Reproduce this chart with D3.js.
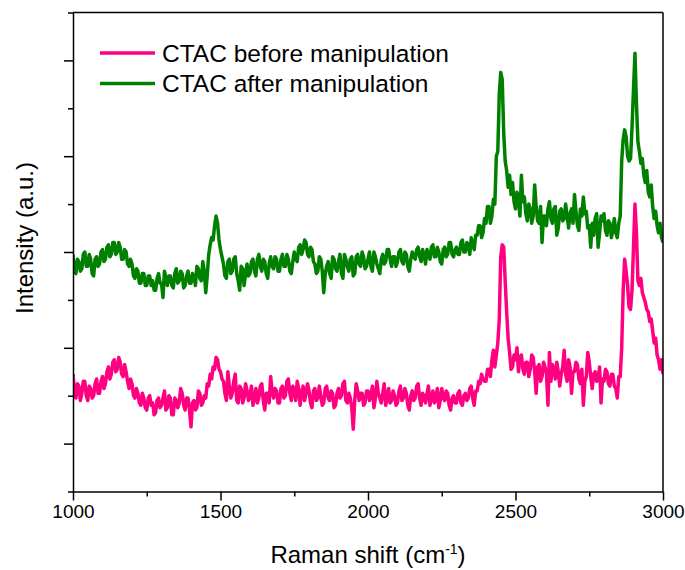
<!DOCTYPE html>
<html>
<head>
<meta charset="utf-8">
<script src="https://cdn.jsdelivr.net/npm/d3@7"></script>
<style>
	body { margin: 0; background: #fff; }
	svg { display: block; font-family: Arial, "Liberation Sans", sans-serif; }
</style>
</head>
<body>
<div id="chart"></div>
<script>
// Raman shift axis, 5 cm-1 steps from 1000 to 3000
var shifts = d3.range(1000, 3001, 5);

// CTAC before manipulation (a.u.), one row per 100 cm-1
var beforeValues = [
	2.45, 2.10, 1.95, 2.25, 2.20, 1.90, 2.05, 2.30, 2.30, 2.00, 1.90, 2.20, 2.15, 1.95, 2.00, 2.25, 2.35, 2.05, 2.05, 2.30,
	2.40, 2.15, 2.25, 2.50, 2.60, 2.35, 2.45, 2.70, 2.75, 2.50, 2.55, 2.80, 2.70, 2.45, 2.40, 2.65, 2.50, 2.30, 2.15, 2.35,
	2.25, 2.00, 1.95, 2.15, 2.05, 1.85, 1.80, 2.05, 1.95, 1.75, 1.70, 1.95, 2.00, 1.80, 1.85, 1.60, 1.65, 1.90, 1.95, 1.75,
	1.80, 1.95, 2.10, 1.70, 1.75, 2.00, 1.95, 1.60, 1.60, 1.95, 1.90, 1.75, 1.85, 2.15, 2.05, 1.80, 1.70, 1.95, 1.95, 1.70,
	1.35, 1.85, 1.90, 1.70, 1.75, 2.10, 2.05, 1.80, 1.85, 2.00, 1.95, 2.25, 2.20, 2.45, 2.35, 2.60, 2.55, 2.80, 2.75, 2.55,
	2.50, 2.35, 2.30, 2.05, 1.90, 2.50, 2.20, 1.95, 2.05, 2.30, 2.45, 1.90, 1.85, 2.20, 2.15, 1.85, 1.95, 2.25, 2.10, 1.90,
	2.00, 2.20, 1.80, 1.95, 2.15, 1.85, 1.95, 2.20, 2.25, 1.90, 1.70, 2.05, 2.05, 1.85, 2.40, 2.10, 1.95, 2.15, 2.10, 1.85,
	1.85, 2.15, 2.20, 1.95, 2.00, 2.30, 2.35, 2.05, 1.90, 2.20, 2.10, 1.90, 2.30, 2.15, 1.80, 2.05, 2.20, 1.90, 2.05, 2.25,
	2.10, 1.85, 1.75, 2.10, 2.15, 1.90, 1.95, 2.20, 2.00, 1.80, 1.85, 2.15, 2.20, 1.95, 1.90, 2.10, 2.05, 1.75, 1.80, 2.05,
	2.15, 1.95, 2.00, 2.25, 2.30, 1.90, 1.85, 2.05, 1.95, 1.75, 1.30, 1.90, 2.25, 2.10, 1.90, 2.05, 2.05, 1.80, 1.85, 2.10,
	2.10, 1.90, 2.00, 2.20, 1.75, 1.95, 2.30, 2.05, 1.95, 1.85, 2.05, 2.25, 1.80, 1.95, 2.15, 1.85, 1.90, 2.10, 2.00, 1.80,
	1.85, 2.10, 2.20, 1.90, 1.95, 2.15, 2.05, 1.80, 1.70, 2.00, 2.10, 1.90, 1.95, 2.20, 2.25, 1.95, 1.80, 2.05, 2.00, 1.85,
	2.05, 2.20, 1.80, 1.95, 2.10, 1.85, 1.95, 2.15, 1.75, 1.90, 2.15, 1.95, 1.90, 2.10, 2.05, 1.80, 1.70, 1.95, 2.00, 1.85,
	1.85, 2.05, 2.10, 1.85, 1.80, 2.00, 2.05, 1.90, 1.95, 2.15, 2.20, 1.95, 1.80, 2.10, 2.10, 2.30, 2.25, 2.45, 2.35, 2.30,
	2.30, 2.55, 2.55, 2.40, 2.75, 2.95, 2.60, 2.85, 3.10, 3.60, 4.90, 5.15, 5.10, 4.40, 3.75, 3.20, 2.90, 2.55, 2.60, 2.85,
	2.75, 3.00, 2.50, 2.80, 2.85, 2.55, 2.45, 2.70, 2.70, 2.40, 2.55, 2.85, 2.80, 2.50, 2.05, 2.60, 2.65, 2.30, 2.40, 2.70,
	2.60, 2.45, 1.80, 2.90, 2.30, 2.65, 2.55, 2.35, 2.70, 2.50, 2.20, 2.45, 2.60, 2.95, 2.45, 2.30, 2.75, 2.60, 2.05, 2.50,
	2.50, 2.70, 2.65, 2.35, 2.25, 2.55, 1.80, 2.30, 2.40, 2.90, 2.70, 2.40, 2.15, 2.45, 2.50, 2.30, 2.35, 2.60, 1.85, 2.35,
	2.30, 2.55, 2.50, 2.25, 2.20, 2.45, 2.45, 2.20, 2.15, 1.95, 2.40, 2.40, 3.00, 4.20, 4.85, 4.60, 4.30, 3.85, 3.80, 4.20,
	5.10, 6.00, 5.40, 4.40, 4.30, 4.45, 4.15, 4.05, 3.95, 3.80, 3.75, 3.55, 3.60, 3.35, 3.10, 3.20, 2.85, 2.75, 2.55, 2.75,
	2.45
];

// CTAC after manipulation (a.u.), one row per 100 cm-1
var afterValues = [
	4.95, 4.60, 4.55, 4.85, 4.80, 4.60, 4.65, 4.95, 5.00, 4.70, 4.70, 4.95, 4.85, 4.55, 4.50, 4.85, 4.90, 4.70, 4.75, 5.00,
	5.05, 4.80, 4.85, 5.10, 5.15, 4.90, 4.95, 5.20, 5.20, 4.95, 5.00, 5.20, 5.10, 4.85, 4.85, 5.05, 5.00, 4.75, 4.70, 4.85,
	4.75, 4.50, 4.45, 4.65, 4.60, 4.35, 4.35, 4.55, 4.55, 4.30, 4.30, 4.50, 4.50, 4.30, 4.40, 4.20, 4.20, 4.45, 4.55, 4.35,
	4.35, 4.05, 4.60, 4.45, 4.30, 4.50, 4.50, 4.30, 4.25, 4.55, 4.65, 4.35, 4.40, 4.60, 4.55, 4.25, 4.30, 4.50, 4.60, 4.35,
	4.35, 4.55, 4.50, 4.30, 4.70, 4.65, 4.45, 4.40, 4.80, 4.60, 4.15, 4.50, 4.95, 5.15, 5.30, 5.25, 5.55, 5.75, 5.60, 5.25,
	5.05, 4.90, 4.75, 4.50, 4.45, 4.80, 4.85, 4.55, 4.60, 4.85, 4.90, 4.55, 4.40, 4.20, 4.70, 4.65, 4.30, 4.55, 4.75, 4.50,
	4.55, 4.80, 4.85, 4.60, 4.50, 4.85, 4.95, 4.70, 4.60, 4.85, 4.80, 4.55, 4.45, 4.75, 4.90, 4.70, 4.65, 4.90, 4.85, 4.60,
	4.60, 4.85, 4.95, 4.70, 4.70, 4.95, 4.85, 4.60, 4.55, 4.80, 5.00, 4.85, 4.80, 5.10, 5.15, 4.95, 5.05, 5.25, 5.20, 4.95,
	4.90, 5.10, 5.05, 4.80, 4.75, 4.55, 4.60, 4.90, 4.85, 4.60, 4.15, 4.55, 4.70, 4.80, 4.55, 4.45, 4.90, 4.85, 4.65, 4.60,
	4.80, 4.95, 4.55, 4.45, 4.95, 4.85, 4.70, 4.60, 4.85, 4.90, 4.50, 4.55, 4.90, 4.95, 4.75, 4.70, 5.00, 4.90, 4.65, 4.70,
	4.85, 5.00, 4.70, 4.60, 5.00, 4.90, 4.75, 4.65, 4.55, 4.85, 4.95, 4.75, 4.80, 5.05, 5.05, 4.85, 4.70, 4.90, 4.90, 4.70,
	4.80, 5.00, 5.05, 4.80, 4.75, 5.00, 4.95, 4.70, 4.60, 4.85, 5.00, 4.90, 4.85, 5.05, 5.10, 4.90, 4.80, 5.05, 4.95, 4.75,
	5.05, 4.95, 4.85, 5.10, 5.15, 4.90, 4.90, 5.10, 5.00, 4.80, 4.75, 5.05, 5.10, 4.90, 4.95, 5.20, 5.20, 4.95, 4.90, 5.05,
	5.10, 4.95, 4.95, 5.20, 5.25, 5.00, 5.00, 5.20, 5.15, 4.95, 5.30, 5.15, 5.05, 5.35, 5.35, 5.55, 5.55, 5.30, 5.40, 5.70,
	5.60, 5.95, 5.95, 5.60, 5.75, 6.10, 6.00, 7.00, 7.10, 8.30, 8.75, 8.60, 7.50, 6.90, 6.70, 6.35, 6.60, 6.20, 6.45, 6.05,
	5.90, 6.25, 6.10, 5.75, 6.60, 6.05, 6.15, 5.80, 5.65, 6.00, 5.90, 5.60, 5.75, 6.40, 5.95, 5.65, 5.60, 5.95, 5.20, 5.75,
	5.75, 5.55, 5.90, 6.05, 5.70, 5.60, 5.90, 5.95, 5.35, 5.50, 5.85, 5.90, 5.65, 5.70, 6.00, 5.75, 5.50, 5.80, 5.90, 5.60,
	6.20, 5.85, 5.55, 5.45, 5.90, 5.75, 6.15, 5.80, 5.85, 5.50, 5.55, 5.10, 5.60, 5.35, 5.70, 5.80, 5.10, 5.40, 5.75, 5.65,
	5.80, 5.45, 5.35, 5.65, 5.60, 5.30, 5.45, 5.70, 5.40, 5.30, 5.60, 5.75, 6.90, 7.35, 7.55, 7.40, 7.00, 6.90, 6.95, 7.60,
	8.40, 9.15, 8.10, 7.30, 7.10, 6.85, 6.95, 6.60, 6.45, 6.70, 6.25, 6.15, 6.40, 5.95, 5.70, 5.85, 5.55, 5.40, 5.60, 5.30,
	5.20
];

var seriesNames = ["CTAC before manipulation", "CTAC after manipulation"];
var seriesColors = ["#ff0080", "#008000"];
var xTickValues = [1000, 1500, 2000, 2500, 3000];
var xMinorTicks = [1250, 1750, 2250, 2750];
var yMajorTicks = [1, 3, 5, 7, 9];
var yMinorTicks = [0, 2, 4, 6, 8, 10];

var width = 685, height = 570;
var margin = {top: 12.5, right: 22, bottom: 78.5, left: 73};
var innerW = width - margin.left - margin.right;
var innerH = height - margin.top - margin.bottom;

var svg = d3.select("#chart").append("svg")
	.attr("width", width)
	.attr("height", height);

var x = d3.scaleLinear().domain([1000, 3000]).range([0, innerW]);
var y = d3.scaleLinear().domain([0, 10]).range([innerH, 0]);

var g = svg.append("g").attr("transform", "translate(" + margin.left + "," + margin.top + ")");

// series lines
var series = [beforeValues, afterValues];
var line = d3.line()
	.x(function(d, i){ return x(shifts[i]); })
	.y(function(d){ return y(d); });

g.append("clipPath").attr("id", "clip")
	.append("rect").attr("width", innerW).attr("height", innerH);

series.forEach(function(vals, k){
	g.append("path")
		.datum(vals)
		.attr("clip-path", "url(#clip)")
		.attr("fill", "none")
		.attr("stroke", seriesColors[k])
		.attr("stroke-width", 3.5)
		.attr("stroke-linejoin", "round")
		.attr("d", line);
});

// frame top/right
g.append("line").attr("x1", 0).attr("x2", innerW).attr("y1", 0).attr("y2", 0)
	.attr("stroke", "#000").attr("stroke-width", 1.5);
g.append("line").attr("x1", innerW).attr("x2", innerW).attr("y1", 0).attr("y2", innerH)
	.attr("stroke", "#000").attr("stroke-width", 1.5);

// x axis
var xAxis = g.append("g").attr("transform", "translate(0," + innerH + ")")
	.call(d3.axisBottom(x).tickValues(xTickValues).tickSize(9).tickSizeOuter(0).tickPadding(4).tickFormat(d3.format("d")));
g.append("g").attr("transform", "translate(0," + innerH + ")")
	.call(d3.axisBottom(x).tickValues(xMinorTicks).tickSize(5).tickSizeOuter(0).tickFormat(""))
	.select(".domain").remove();
xAxis.selectAll("text").attr("font-size", 19).attr("fill", "#000").style("font-family", "Arial, 'Liberation Sans', sans-serif");

// y axis, no labels
g.append("g")
	.call(d3.axisLeft(y).tickValues(yMajorTicks).tickSize(9).tickSizeOuter(0).tickFormat(""));
g.append("g")
	.call(d3.axisLeft(y).tickValues(yMinorTicks).tickSize(5).tickSizeOuter(0).tickFormat(""))
	.select(".domain").remove();

g.selectAll(".domain, .tick line").attr("stroke", "#000").attr("stroke-width", 1.5);

// axis titles
var xt = svg.append("text")
	.attr("x", margin.left + innerW / 2)
	.attr("y", 563)
	.attr("text-anchor", "middle")
	.attr("font-size", 24)
	.attr("fill", "#000");
xt.append("tspan").text("Raman shift (cm");
xt.append("tspan").attr("font-size", 14).attr("dy", -9).text("-1");
xt.append("tspan").attr("dy", 9).text(")");

svg.append("text")
	.attr("transform", "translate(33," + (margin.top + innerH / 2 - 14) + ") rotate(-90)")
	.attr("text-anchor", "middle")
	.attr("font-size", 24)
	.attr("fill", "#000")
	.text("Intensity (a.u.)");

// legend
var legend = svg.append("g");
seriesNames.forEach(function(name, k){
	var ly = 53 + k * 30.5;
	legend.append("line")
		.attr("x1", 100).attr("x2", 155).attr("y1", ly).attr("y2", ly)
		.attr("stroke", seriesColors[k]).attr("stroke-width", 3.5);
	legend.append("text")
		.attr("x", 162).attr("y", ly + 8.5)
		.attr("font-size", 24.5)
		.attr("fill", "#000")
		.text(name);
});
</script>
</body>
</html>
